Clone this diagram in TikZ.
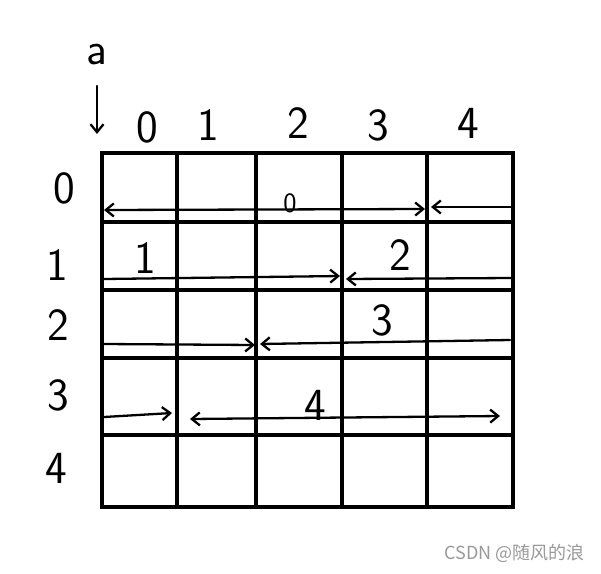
\documentclass[tikz,border=0pt]{standalone}
\usepackage{fontspec}
\newfontfamily\cjkfont{Noto Sans CJK SC}
\usetikzlibrary{arrows.meta}

\begin{document}
\begin{tikzpicture}[x=1pt,y=-1pt,
    >={Straight Barb[length=8pt,width=13pt]},
    gridline/.style={
% The pen:
      line width=4.4pt,
      line cap=rect
    },
    walk/.style={
% The pen:
      line width=2.3pt,
      line cap=round
    },
    digit/.style={
% The size:
      inner sep=0pt,
% Font
      font=\sffamily\fontsize{46}{46}\selectfont
    },
    smalldigit/.style={
      inner sep=0pt,
      font=\sffamily\fontsize{28}{28}\selectfont
    }]
  \useasboundingbox (0,0) rectangle (601,573);

  % the grid
  \foreach \x in {102,177,256,342,427,513}
    \draw [gridline] (\x,153) -- (\x,507);
  \foreach \y in {153,222,290,358,435,507}
    \draw [gridline] (102,\y) -- (513,\y);

  % array name and index labels
  \node [digit] (name) at (97,55) {a};
  \coordinate (nametop) at (97,86);
  \coordinate (nametip) at (97,134);
  \draw [walk,->] (nametop) -- (nametip);

  \node [digit] (c0) at (147,127) {0};
  \node [digit] (c1) at (208,125) {1};
  \node [digit] (c2) at (298,123) {2};
  \node [digit] (c3) at (378,125) {3};
  \node [digit] (c4) at (468,123) {4};

  \node [digit] (r0) at (64,188) {0};
  \node [digit] (r1) at (57,265) {1};
  \node [digit] (r2) at (58,325) {2};
  \node [digit] (r3) at (58,395) {3};
  \node [digit] (r4) at (56,468) {4};

  % row 0
  \coordinate (w0) at (104,210);
  \coordinate (m0) at (425,209);
  \coordinate (e0) at (511,207);
  \coordinate (n0) at (431,207);
  \draw [walk,<->] (w0) -- (m0);
  \draw [walk,->] (e0) -- (n0);
  \node [smalldigit] (k0) at (290,203) {0};

  % row 1
  \coordinate (w1) at (104,279);
  \coordinate (m1) at (340,276);
  \coordinate (e1) at (511,278);
  \coordinate (n1) at (346,279);
  \draw [walk,->] (w1) -- (m1);
  \draw [walk,->] (e1) -- (n1);
  \node [digit] (k1) at (145,258) {1};
  \node [digit] (k2) at (400,255) {2};

  % row 2
  \coordinate (w2) at (104,344);
  \coordinate (m2) at (255,345);
  \coordinate (e2) at (510,340);
  \coordinate (n2) at (260,344);
  \draw [walk,->] (w2) -- (m2);
  \draw [walk,->] (e2) -- (n2);
  \node [digit] (k3) at (382,320) {3};

  % row 3
  \coordinate (w3) at (104,417);
  \coordinate (m3) at (172,413);
  \coordinate (a3) at (190,419);
  \coordinate (b3) at (500,416);
  \draw [walk,->] (w3) -- (m3);
  \draw [walk,<->] (a3) -- (b3);
  \node [digit] (k4) at (315,405) {4};

  \node [text=gray!80, anchor=east, font=\cjkfont\fontsize{18}{18}\selectfont]
    (mark) at (588,553) {CSDN @随风的浪};
\end{tikzpicture}
\end{document}
